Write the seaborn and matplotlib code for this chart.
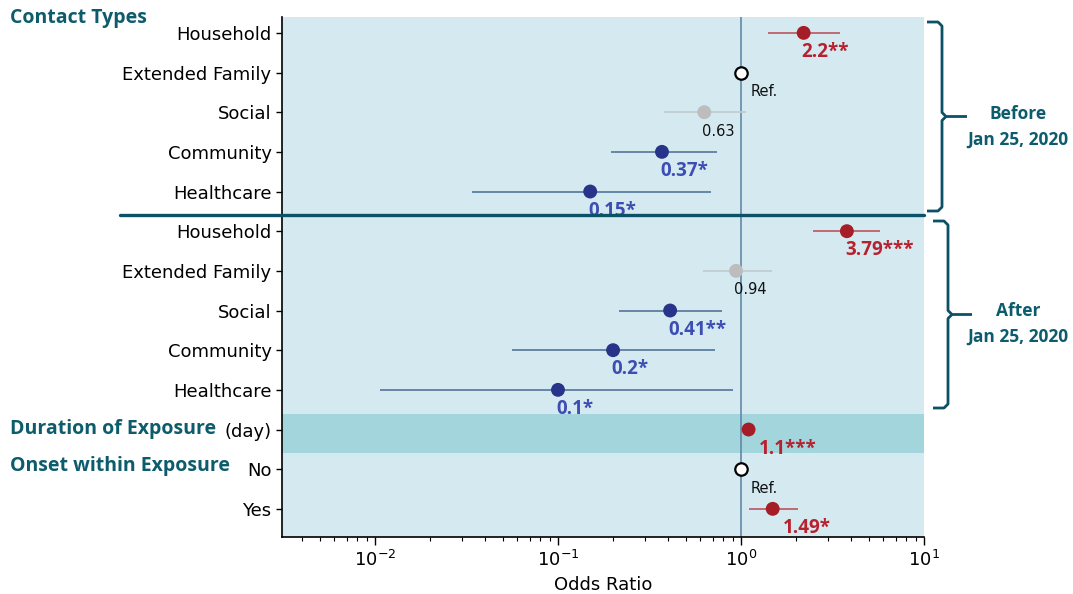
import numpy as np
import pandas as pd
import matplotlib
matplotlib.use("Agg")
import matplotlib.pyplot as plt
from matplotlib.lines import Line2D
import seaborn as sns

# ---------------- data ----------------
rows = ["Household", "Extended Family", "Social", "Community", "Healthcare",
        "Household", "Extended Family", "Social", "Community", "Healthcare",
        "(day)", "No", "Yes"]
odds = [2.2, 1.0, 0.63, 0.37, 0.15, 3.79, 0.94, 0.41, 0.2, 0.1, 1.1, 1.0, 1.49]
ci_low = [1.41, np.nan, 0.38, 0.195, 0.034, 2.49, 0.62, 0.216, 0.056, 0.0107, 1.06, np.nan, 1.10]
ci_high = [3.47, np.nan, 1.065, 0.74, 0.69, 5.75, 1.48, 0.785, 0.72, 0.90, 1.14, np.nan, 2.05]
labels = ["2.2**", "Ref.", "0.63", "0.37*", "0.15*", "3.79***", "0.94", "0.41**",
          "0.2*", "0.1*", "1.1***", "Ref.", "1.49*"]
effect = ["up", "ref", "ns", "down", "down", "up", "ns", "down", "down", "down",
          "up", "ref", "up"]

df = pd.DataFrame({"row": np.arange(len(rows)), "name": rows, "odds": odds,
                   "lo": ci_low, "hi": ci_high, "label": labels, "effect": effect})

# ---------------- style ----------------
sns.set_style("ticks")
plt.rcParams["font.family"] = ["DejaVu Sans"]
plt.rcParams["text.color"] = "black"
plt.rcParams["axes.labelcolor"] = "black"
plt.rcParams["xtick.color"] = "black"
plt.rcParams["ytick.color"] = "black"

marker_col = {"up": "#a51d26", "down": "#28338a", "ns": "#bdbdbd"}
ci_col = {"up": "#c0606c", "down": "#5b7fa3", "ns": "#c3cdd2", "ref": "#000000"}
text_col = {"up": "#b8202e", "down": "#3d4db3", "ns": "#111111", "ref": "#111111"}
teal = "#0d5c6c"

W, H = 1073, 594
fig = plt.figure(figsize=(W / 100, H / 100), dpi=100)
ax = fig.add_axes([282 / W, 1 - 537 / H, (924 - 282) / W, (537 - 17) / H])
ax.set_facecolor("#d4eaf0")

ax.set_xscale("log")
ax.set_xlim(10 ** -2.508, 10 ** 1.0)
ax.set_ylim(12.71, -0.40)

# duration band
ax.axhspan(9.60, 10.59, color="#a3d5dc", zorder=0, lw=0)
# reference line
ax.axvline(1.0, color="#6388a8", lw=1.2, zorder=1)

# CI lines
for _, r in df.iterrows():
    if not np.isnan(r["lo"]):
        ax.hlines(r["row"], r["lo"], r["hi"], colors=ci_col[r["effect"]], lw=1.3, zorder=2)

# points
pts = df[df["effect"] != "ref"]
sns.scatterplot(data=pts, x="odds", y="row", hue="effect", palette=marker_col,
                s=100, edgecolor="none", legend=False, zorder=3, ax=ax)
refs = df[df["effect"] == "ref"]
sns.scatterplot(data=refs, x="odds", y="row", s=80, color="white",
                edgecolor="black", linewidth=1.6, legend=False, zorder=3, ax=ax)

# value labels
for _, r in df.iterrows():
    e = r["effect"]
    if e in ("up", "down"):
        kw = dict(fontsize=13.5, fontweight="bold", family=["Open Sans", "DejaVu Sans"])
    else:
        kw = dict(fontsize=10.5, family=["DejaVu Sans"])
    dx = 10 if e == "ref" or r["name"] in ("(day)", "Yes") else -2
    ax.annotate(r["label"], (r["odds"], r["row"]), xytext=(dx, -19),
                textcoords="offset pixels", ha="left", va="center",
                color=text_col[e], zorder=4, **kw)

# axes formatting
ax.set_yticks(df["row"])
ax.set_yticklabels(rows, fontsize=13, color="black")
ax.tick_params(axis="x", labelsize=13, which="major", length=6, width=1, direction="out",
               colors="black")
ax.tick_params(axis="x", which="minor", length=3, width=0.8, direction="out", colors="black")
ax.tick_params(axis="y", length=4, width=1, direction="out", colors="black")
ax.set_xlabel("Odds Ratio", fontsize=13, color="black")
ax.set_ylabel("")
for s in ("top", "right"):
    ax.spines[s].set_visible(False)
for s in ("left", "bottom"):
    ax.spines[s].set_color("black")
    ax.spines[s].set_linewidth(1.2)

# separator line between before/after
def fy(y):
    return 1 - y / H

fig.add_artist(Line2D([120 / W, 924 / W], [fy(215), fy(215)], color="#0d5166", lw=2.4))

# section headers
hdr = dict(fontsize=14, fontweight="bold", color=teal, family=["Open Sans", "DejaVu Sans"],
           ha="left", va="center")
fig.text(10 / W, fy(18), "Contact Types", **hdr)
fig.text(10 / W, fy(429), "Duration of Exposure", **hdr)
fig.text(10 / W, fy(466), "Onset within Exposure", **hdr)

# braces
def brace(x0, xv, y0, y1, xt):
    ym = (y0 + y1) / 2
    r = 4
    xs = [x0, xv - r, xv, xv, xv + r, xt]
    ys = [y0, y0, y0 + r, ym - r, ym, ym]
    xs2 = [x0, xv - r, xv, xv, xv + r]
    ys2 = [y1, y1, y1 - r, ym + r, ym]
    for X, Y in ((xs, ys), (xs2, ys2)):
        fig.add_artist(Line2D([x / W for x in X], [fy(y) for y in Y],
                              color="#0d5166", lw=2.0, solid_capstyle="butt"))

brace(927, 942, 22, 211, 967)
brace(933, 948, 221, 408, 972)

side = dict(fontsize=12.5, fontweight="bold", color=teal, family=["Open Sans", "DejaVu Sans"],
            ha="center", va="center")
fig.text(1018 / W, fy(114), "Before", **side)
fig.text(1018 / W, fy(140), "Jan 25, 2020", **side)
fig.text(1018 / W, fy(311), "After", **side)
fig.text(1018 / W, fy(337), "Jan 25, 2020", **side)

fig.savefig("out.png", dpi=100)
